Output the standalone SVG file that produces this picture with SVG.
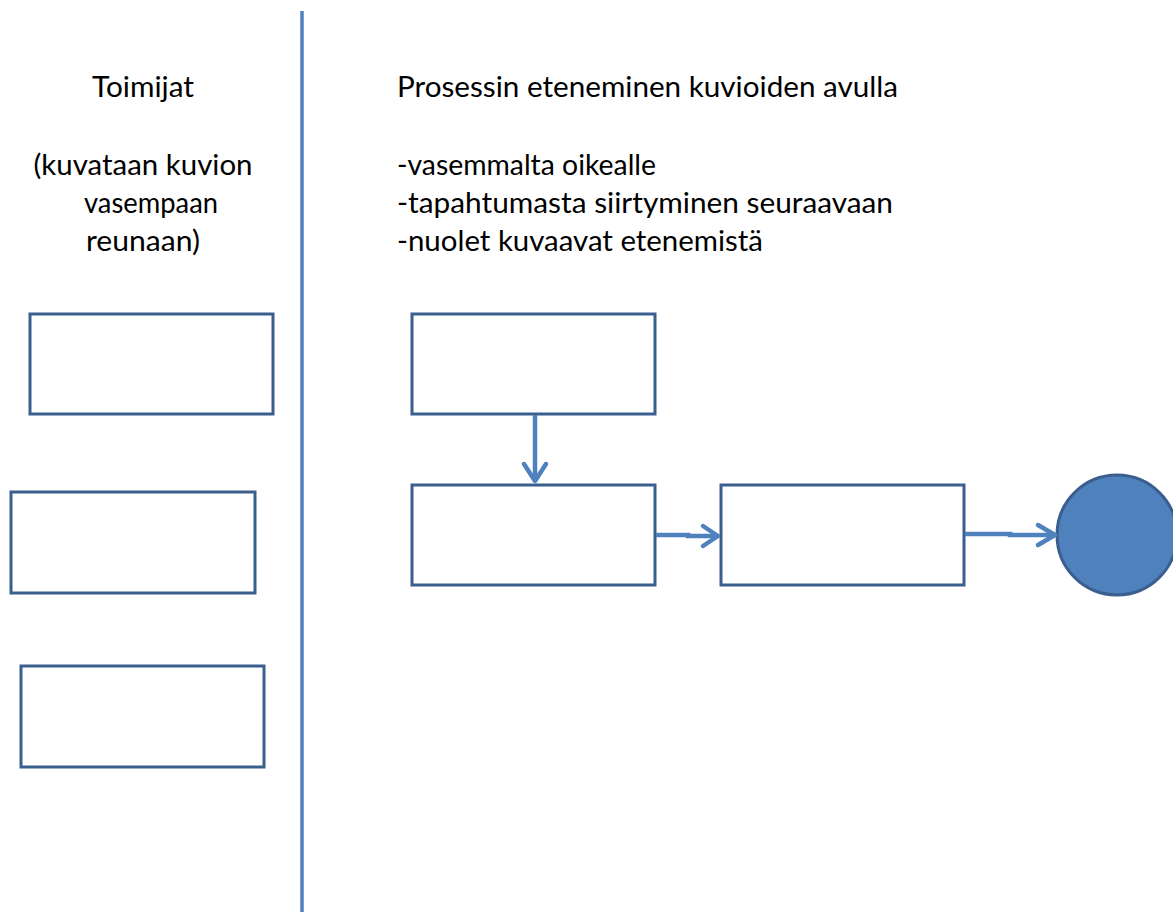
<svg xmlns="http://www.w3.org/2000/svg" width="1173" height="912" viewBox="0 0 1173 912">
  <defs>
    <style>
      .box { fill: #ffffff; stroke: #3A5F8E; stroke-width: 3; }
      .end { fill: #4F81BD; stroke: #3A5F8E; stroke-width: 3; }
      .conn { fill: none; stroke: #4F81BD; stroke-width: 4.5; }
      .head { fill: none; stroke: #4F81BD; stroke-width: 4.5; stroke-linecap: round; stroke-linejoin: round; }
      .txt { font-family: Lato, "Open Sans", "Liberation Sans", sans-serif; font-size: 28px; fill: #000000; }
      .mid { text-anchor: middle; }
    </style>
  </defs>
  <rect width="1173" height="912" fill="#ffffff"/>

  <!-- divider between actors and process -->
  <line x1="302" y1="11" x2="302" y2="912" stroke="#4F81BD" stroke-width="3.5"/>

  <!-- headings -->
  <g id="actors-heading">
    <text class="txt mid" x="143" y="97" textLength="102" lengthAdjust="spacingAndGlyphs">Toimijat</text>
    <text class="txt mid" x="143" y="175" textLength="219" lengthAdjust="spacingAndGlyphs">(kuvataan kuvion</text>
    <text class="txt mid" x="151" y="213" textLength="134" lengthAdjust="spacingAndGlyphs">vasempaan</text>
    <text class="txt mid" x="143" y="251" textLength="114" lengthAdjust="spacingAndGlyphs">reunaan)</text>
  </g>
  <g id="process-heading">
    <text class="txt" x="397" y="97" textLength="501" lengthAdjust="spacingAndGlyphs">Prosessin eteneminen kuvioiden avulla</text>
    <text class="txt" x="397" y="175" textLength="259" lengthAdjust="spacingAndGlyphs">-vasemmalta oikealle</text>
    <text class="txt" x="397" y="213" textLength="496" lengthAdjust="spacingAndGlyphs">-tapahtumasta siirtyminen seuraavaan</text>
    <text class="txt" x="397" y="251" textLength="366" lengthAdjust="spacingAndGlyphs">-nuolet kuvaavat etenemistä</text>
  </g>

  <!-- actor boxes -->
  <g id="actor-1"><rect class="box" x="30" y="314" width="243" height="100"/></g>
  <g id="actor-2"><rect class="box" x="11" y="492" width="244" height="101"/></g>
  <g id="actor-3"><rect class="box" x="21" y="666" width="243" height="101"/></g>

  <!-- process steps -->
  <g id="step-1"><rect class="box" x="412" y="314" width="243" height="100"/></g>
  <g id="step-2"><rect class="box" x="412" y="485" width="243" height="100"/></g>
  <g id="step-3"><rect class="box" x="721" y="485" width="243" height="100"/></g>
  <g id="end"><circle class="end" cx="1117" cy="535" r="60"/></g>

  <!-- connectors -->
  <g id="connectors">
    <line class="conn" x1="535" y1="415" x2="535" y2="481"/>
    <polyline class="head" points="524,464 535,481 546,464"/>
    <polyline class="conn" points="656,535 688,535 688,536 717,536"/>
    <polyline class="head" points="703,526 718,536 703,546"/>
    <polyline class="conn" points="965,534 1010,534 1010,535 1054,535"/>
    <polyline class="head" points="1038,525 1055,535 1038,545"/>
  </g>
</svg>
